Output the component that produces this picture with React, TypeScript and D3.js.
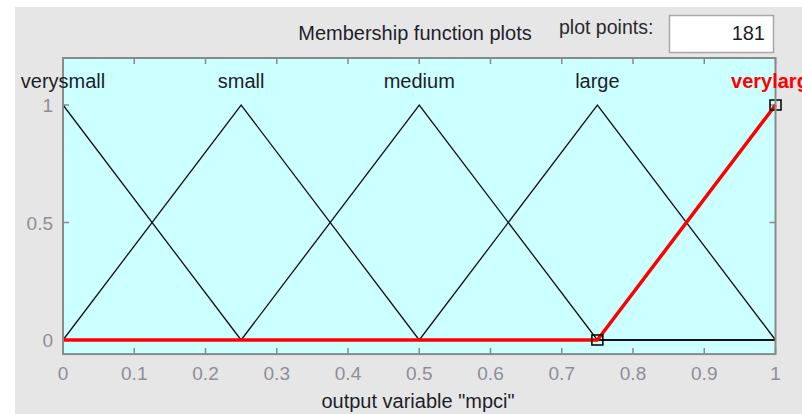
import React from "react";
import * as d3 from "d3";

const W = 802;
const H = 414;

const xTicks = [0, 0.1, 0.2, 0.3, 0.4, 0.5, 0.6, 0.7, 0.8, 0.9, 1];
const xTickLabels = ["0", "0.1", "0.2", "0.3", "0.4", "0.5", "0.6", "0.7", "0.8", "0.9", "1"];
const yTicks = [0, 0.5, 1];
const yTickLabels = ["0", "0.5", "1"];
const yLim = [-0.06, 1.2];

const mfNames = ["verysmall", "small", "medium", "large", "verylarge"];
const mfPeaks = [0, 0.25, 0.5, 0.75, 1];

const verysmallX = [0, 0.25, 1];
const verysmallY = [1, 0, 0];
const smallX = [0, 0.25, 0.5, 1];
const smallY = [0, 1, 0, 0];
const mediumX = [0, 0.25, 0.5, 0.75, 1];
const mediumY = [0, 0, 1, 0, 0];
const largeX = [0, 0.5, 0.75, 1];
const largeY = [0, 0, 1, 0];
const verylargeX = [0, 0.75, 1];
const verylargeY = [0, 0, 1];
const markerX = [0.75, 1];
const markerY = [0, 1];

const selected = 4;

const FONT = "'Liberation Sans', Arial, sans-serif";

export default function App() {
  const x = d3.scaleLinear().domain([0, 1]).range([63, 775.5]);
  const y = d3.scaleLinear().domain([0, 1]).range([340, 105]);
  const top = y(yLim[1]);
  const bottom = y(yLim[0]);
  const left = x(0);
  const right = x(1);

  const series = [
    [verysmallX, verysmallY],
    [smallX, smallY],
    [mediumX, mediumY],
    [largeX, largeY],
    [verylargeX, verylargeY],
  ];
  const line = d3
    .line<[number, number]>()
    .x((d) => x(d[0]))
    .y((d) => y(d[1]));
  const toPts = (xs: number[], ys: number[]) =>
    xs.map((v, i) => [v, ys[i]] as [number, number]);

  const axisColor = "#8a8a8a";
  const tickLen = 6;

  return (
    <svg
      width={W}
      height={H}
      style={{ position: "absolute", left: 0, top: 0, display: "block" }}
      fontFamily={FONT}
    >
      <rect x={0} y={0} width={W} height={H} fill="#ffffff" />
      <rect x={15} y={7} width={W - 15} height={H - 7} fill="#e6e6e6" />

      {/* header */}
      <text x={415} y={40} fontSize={20} fill="#1e1e2a" textAnchor="middle">
        Membership function plots
      </text>
      <text x={559} y={34} fontSize={19.5} fill="#2a2a2a">
        plot points:
      </text>
      <rect x={669.5} y={15.5} width={104} height={37} fill="#ffffff" stroke="#a8a8a8" strokeWidth={1.5} />
      <text x={765} y={40} fontSize={20} fill="#1e1e2a" textAnchor="end">
        181
      </text>

      {/* plot area */}
      <rect x={left} y={top} width={right - left} height={bottom - top} fill="#ccffff" />

      {/* ticks */}
      {xTicks.map((t, i) => (
        <g key={"xt" + i}>
          <line x1={x(t)} x2={x(t)} y1={bottom} y2={bottom - tickLen} stroke={axisColor} strokeWidth={1.5} />
          <line x1={x(t)} x2={x(t)} y1={top} y2={top + tickLen} stroke={axisColor} strokeWidth={1.5} />
          <text x={x(t)} y={380} fontSize={19} fill="#8e8e98" textAnchor="middle">
            {xTickLabels[i]}
          </text>
        </g>
      ))}
      {yTicks.map((t, i) => (
        <g key={"yt" + i}>
          <line x1={left} x2={left + tickLen} y1={y(t)} y2={y(t)} stroke={axisColor} strokeWidth={1.5} />
          <line x1={right} x2={right - tickLen} y1={y(t)} y2={y(t)} stroke={axisColor} strokeWidth={1.5} />
          <text x={53} y={y(t) + 7} fontSize={19} fill="#8e8e98" textAnchor="end">
            {yTickLabels[i]}
          </text>
        </g>
      ))}

      {/* unselected MFs */}
      {series.map((s, i) =>
        i === selected ? null : (
          <path
            key={"mf" + i}
            d={line(toPts(s[0], s[1])) || ""}
            fill="none"
            stroke="#111111"
            strokeWidth={1.3}
          />
        )
      )}
      {/* selected MF */}
      <path
        d={line(toPts(series[selected][0], series[selected][1])) || ""}
        fill="none"
        stroke="#ff0000"
        strokeWidth={3.5}
        strokeLinejoin="round"
      />
      {markerX.map((mx, i) => (
        <rect
          key={"mk" + i}
          x={x(mx) - 5.5}
          y={y(markerY[i]) - 5}
          width={11}
          height={10}
          fill="none"
          stroke="#000000"
          strokeWidth={1.5}
        />
      ))}

      {/* axis box */}
      <rect x={left} y={top} width={right - left} height={bottom - top} fill="none" stroke={axisColor} strokeWidth={2} />

      {/* MF labels */}
      {mfNames.map((n, i) => (
        <text
          key={"lb" + i}
          x={x(mfPeaks[i])}
          y={88}
          fontSize={20}
          textAnchor="middle"
          fill={i === selected ? "#ff0000" : "#1e1e2a"}
          fontWeight={i === selected ? "bold" : "normal"}
        >
          {n}
        </text>
      ))}

      <text x={418} y={408} fontSize={20} fill="#1e1e2a" textAnchor="middle">
        output variable "mpci"
      </text>
    </svg>
  );
}
